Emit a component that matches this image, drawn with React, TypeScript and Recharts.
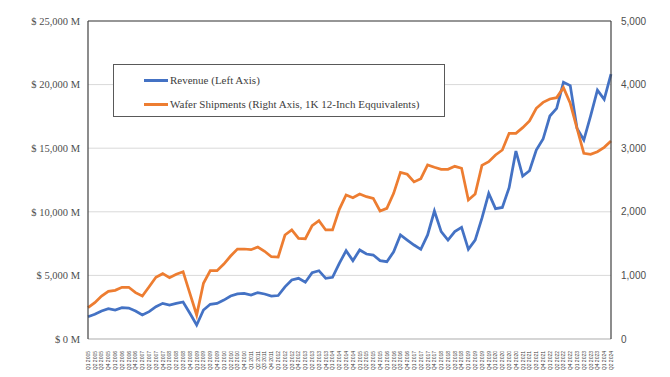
import { ComposedChart, Line, XAxis, YAxis, CartesianGrid, Legend, ReferenceLine } from "recharts";

const quarters = [
  "Q1 2005", "Q2 2005", "Q3 2005", "Q4 2005", "Q1 2006", "Q2 2006", "Q3 2006", "Q4 2006",
  "Q1 2007", "Q2 2007", "Q3 2007", "Q4 2007", "Q1 2008", "Q2 2008", "Q3 2008", "Q4 2008",
  "Q1 2009", "Q2 2009", "Q3 2009", "Q4 2009", "Q1 2010", "Q2 2010", "Q3 2010", "Q4 2010",
  "Q1 2011", "Q2 2011", "Q3 2011", "Q4 2011", "Q1 2012", "Q2 2012", "Q3 2012", "Q4 2012",
  "Q1 2013", "Q2 2013", "Q3 2013", "Q4 2013", "Q1 2014", "Q2 2014", "Q3 2014", "Q4 2014",
  "Q1 2015", "Q2 2015", "Q3 2015", "Q4 2015", "Q1 2016", "Q2 2016", "Q3 2016", "Q4 2016",
  "Q1 2017", "Q2 2017", "Q3 2017", "Q4 2017", "Q1 2018", "Q2 2018", "Q3 2018", "Q4 2018",
  "Q1 2019", "Q2 2019", "Q3 2019", "Q4 2019", "Q1 2020", "Q2 2020", "Q3 2020", "Q4 2020",
  "Q1 2021", "Q2 2021", "Q3 2021", "Q4 2021", "Q1 2022", "Q2 2022", "Q3 2022", "Q4 2022",
  "Q1 2023", "Q2 2023", "Q3 2023", "Q4 2023", "Q1 2024", "Q2 2024",
];

// revenue, $M (left axis)
const revenue = [
  1750, 1940, 2200, 2390, 2280, 2460, 2430, 2200, 1890, 2150,
  2540, 2800, 2670, 2800, 2910, 2020, 1100, 2280, 2730, 2800,
  3060, 3380, 3540, 3580, 3460, 3650, 3540, 3380, 3420, 4100,
  4640, 4770, 4460, 5210, 5370, 4770, 4850, 5950, 6940, 6160,
  7000, 6680, 6600, 6160, 6080, 6850, 8180, 7780, 7390, 7050,
  8180, 10060, 8440, 7780, 8440, 8780, 7050, 7780, 9500, 11450,
  10250, 10340, 11900, 14780, 12810, 13230, 14860, 15720, 17530, 18130,
  20180, 19920, 16560, 15640, 17550, 19570, 18840, 20830,
];

// wafer shipments, 1K 12-inch equivalents (right axis)
const wafers = [
  493, 571, 676, 750, 765, 813, 813, 728, 676, 822,
  970, 1027, 964, 1017, 1058, 718, 377, 876, 1074, 1075,
  1179, 1305, 1415, 1415, 1404, 1447, 1379, 1294, 1289, 1635,
  1714, 1583, 1577, 1782, 1860, 1714, 1714, 2039, 2264, 2222,
  2280, 2238, 2212, 2013, 2055, 2290, 2620, 2590, 2470, 2520,
  2736, 2700, 2668, 2668, 2715, 2684, 2186, 2280, 2730, 2788,
  2893, 2972, 3234, 3234, 3323, 3428, 3627, 3721, 3774, 3795,
  3952, 3706, 3313, 2920, 2904, 2945, 3014, 3113,
];

const leftTicks = [0, 5000, 10000, 15000, 20000, 25000];
const rightTicks = [0, 1000, 2000, 3000, 4000, 5000];

const legendItems = [
  { label: "Revenue (Left Axis)", color: "#4472C4" },
  { label: "Wafer Shipments (Right Axis, 1K 12-Inch Eqquivalents)", color: "#ED7D31" },
];

const data = quarters.map((q, i) => ({ q, revenue: revenue[i], wafers: wafers[i] }));

const QuarterTick = ({ x, y, payload }: any) => (
  <text
    transform={`translate(${x + 1.9},${y + 4}) rotate(-90)`}
    textAnchor="end"
    fontSize={5}
    fill="#404040"
    fontFamily="'Liberation Sans', Arial, sans-serif"
  >
    {payload.value}
  </text>
);

const LegendBox = () => (
  <div
    style={{
      position: "relative",
      width: 332,
      height: 53,
      border: "1px solid #595959",
      boxSizing: "border-box",
      background: "#fff",
      fontFamily: "'Liberation Serif', 'DejaVu Serif', serif",
      fontSize: 11,
      color: "#404040",
    }}
  >
    {legendItems.map((it, i) => (
      <div key={it.label} style={{ position: "absolute", left: 30, top: 7 + i * 24, height: 16, display: "flex", alignItems: "center" }}>
        <div style={{ width: 24, height: 3, background: it.color, marginRight: 2 }} />
        <span>{it.label}</span>
      </div>
    ))}
  </div>
);

export default function App() {
  return (
    <div style={{ width: 654, height: 368, background: "#fff" }}>
      <ComposedChart width={654} height={368} data={data} margin={{ top: 13, right: 6, bottom: 7, left: 0 }}>
        <CartesianGrid vertical={false} stroke="#d9d9d9" yAxisId="left" />
        <XAxis
          dataKey="q"
          interval={0}
          tick={<QuarterTick />}
          tickLine={false}
          axisLine={{ stroke: "#bfbfbf" }}
          height={30}
        />
        <YAxis
          yAxisId="left"
          domain={[0, 25000]}
          ticks={leftTicks}
          width={80}
          tickSize={0}
          tickMargin={8}
          axisLine={{ stroke: "#404040", strokeWidth: 1.2 }}
          tickFormatter={(v: number) => `$ ${v.toLocaleString("en-US")} M`}
          tick={{ fill: "#4d4d4d", fontSize: 10.5, fontFamily: "'Liberation Serif', serif" }}
        />
        <YAxis
          yAxisId="right"
          orientation="right"
          domain={[0, 5000]}
          ticks={rightTicks}
          width={45}
          tickSize={0}
          tickMargin={10}
          axisLine={{ stroke: "#404040", strokeWidth: 1.2 }}
          tickFormatter={(v: number) => v.toLocaleString("en-US")}
          tick={{ fill: "#4d4d4d", fontSize: 10, fontFamily: "'Liberation Sans', Arial, sans-serif", textAnchor: "start" }}
        />
        <ReferenceLine yAxisId="left" y={25000} stroke="#404040" strokeWidth={1.2} />
        <Legend
          layout="horizontal"
          verticalAlign="middle"
          align="center"
          content={<LegendBox />}
          wrapperStyle={{ position: "absolute", left: 105, top: 56, width: 332, height: 53 }}
        />
        <Line
          yAxisId="left"
          type="linear"
          dataKey="revenue"
          stroke="#4472C4"
          strokeWidth={2.75}
          dot={false}
          isAnimationActive={false}
        />
        <Line
          yAxisId="right"
          type="linear"
          dataKey="wafers"
          stroke="#ED7D31"
          strokeWidth={2.75}
          dot={false}
          isAnimationActive={false}
        />
      </ComposedChart>
    </div>
  );
}
